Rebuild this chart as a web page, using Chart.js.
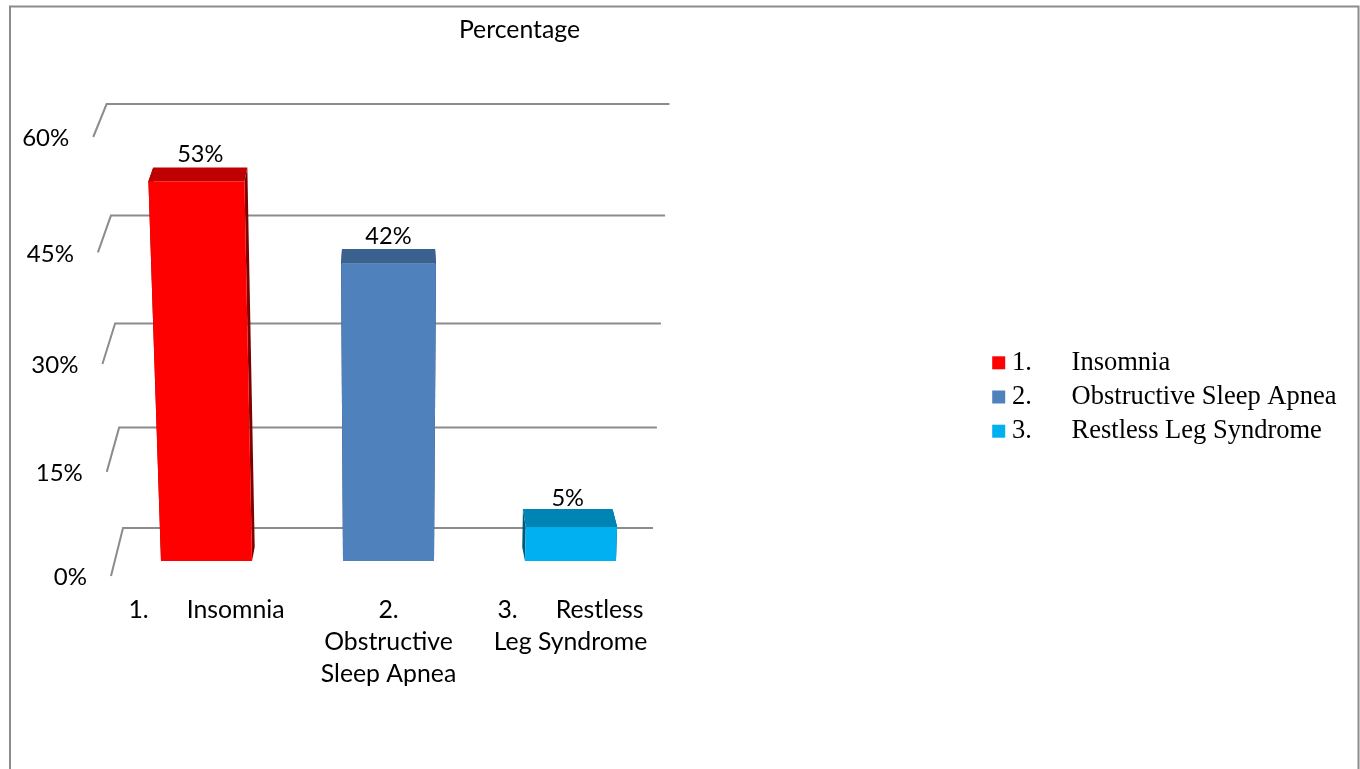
<!DOCTYPE html>
<html>
<head>
<meta charset="utf-8">
<title>Percentage</title>
<script src="https://cdn.jsdelivr.net/npm/chart.js@4"></script>
<style>
  html, body { margin: 0; padding: 0; background: #fff; overflow: hidden; }
  canvas { display: block; }
</style>
</head>
<body>
<canvas id="sleepChart" width="1360" height="769"></canvas>
<script>
const categories = [
  ['1.      Insomnia'],
  ['2.', 'Obstructive', 'Sleep Apnea'],
  ['3.      Restless', 'Leg Syndrome']
];
const legendNames = ['1.      Insomnia', '2.      Obstructive Sleep Apnea', '3.      Restless Leg Syndrome'];
const percentages = [53, 42, 5];
const yTicks = [0, 15, 30, 45, 60];
const barColors = ['#ff0000', '#4f81bd', '#00b0f0'];

const chartFont = 'Lato';
const gridColor = '#8c8c8c';

// the original is a 3D chart seen from above, everything leans away from x = 388
const VANISH_X = 388;
const LEAN = 0.000146;
const lean = (x, h) => x + (x - VANISH_X) * LEAN * h;

function shade(hex, f) {
  const n = parseInt(hex.slice(1), 16);
  const c = [n >> 16, (n >> 8) & 255, n & 255].map(v => Math.round(v * f));
  return `rgb(${c.join(',')})`;
}

function poly(ctx, pts, fill) {
  ctx.beginPath();
  pts.forEach((p, i) => i ? ctx.lineTo(p[0], p[1]) : ctx.moveTo(p[0], p[1]));
  ctx.closePath();
  ctx.fillStyle = fill;
  ctx.fill();
}

// linear axis with the slight foreshortening of the 3D view
class PerspectiveScale extends Chart.LinearScale {
  static id = 'perspective';
  static defaults = Chart.LinearScale.defaults;
  getPixelForDecimal(d) {
    const { pxAtMin, pxAtMax, curve } = this.options;
    return pxAtMin + (pxAtMax - pxAtMin) * (d * (1 - curve) + curve * d * d);
  }
  _computeLabelItems(area) {
    const items = super._computeLabelItems(area);
    items.forEach(it => {
      const y = it.options.translation[1];
      it.options.translation[0] = lean(111, 576 - y) - 24;
      it.options.translation[1] = y + 1.5;
    });
    return items;
  }
}
Chart.register(PerspectiveScale);

function prism(el) {
  const h = el.base - el.y;
  const xl = el.x - el.width / 2, xr = el.x + el.width / 2;
  const tl = lean(xl, h), tr = lean(xr, h);
  const backY = el.y - (11.5 + el.y * 0.0125);
  const inset = x => x + (VANISH_X - x) * 0.02;
  return { xl, xr, tl, tr, backY, btl: inset(tl), btr: inset(tr), bbl: inset(xl), bbr: inset(xr) };
}

Chart.BarElement.prototype.draw = function (ctx) {
  const p = prism(this);
  const color = this.options.backgroundColor;
  const bottom = this.base - 14;
  // side walls first, front goes over them
  poly(ctx, [[p.tr, this.y], [p.btr, p.backY], [p.bbr, bottom], [p.xr, this.base]], shade(color, 0.5));
  poly(ctx, [[p.tl, this.y], [p.btl, p.backY], [p.bbl, bottom], [p.xl, this.base]], shade(color, 0.5));
  poly(ctx, [[p.tl, this.y], [p.btl, p.backY], [p.btr, p.backY], [p.tr, this.y]], shade(color, 0.75));
  poly(ctx, [[p.tl, this.y], [p.tr, this.y], [p.xr, this.base], [p.xl, this.base]], color);
};

const chart3d = {
  id: 'chart3d',
  afterLayout(chart) {
    chart.titleBlock.left = 0;
    chart.titleBlock.right = 1039;
    // legend sits outside the plot in the original, left edge includes its padding
    const lg = chart.legend;
    const w = lg.right - lg.left;
    lg.left = 991;
    lg.right = 991 + w + 20;
    lg.top = 120;
    lg.bottom = 674;
  },
  beforeDraw(chart) {
    const ctx = chart.ctx;
    ctx.save();
    ctx.strokeStyle = gridColor;
    ctx.lineWidth = 2;
    ctx.beginPath();
    ctx.moveTo(10, 769);
    ctx.lineTo(10, 6.5);
    ctx.lineTo(1358.5, 6.5);
    ctx.lineTo(1358.5, 769);
    ctx.stroke();
    ctx.restore();
  },
  beforeDatasetsDraw(chart) {
    const ctx = chart.ctx, y = chart.scales.y;
    ctx.save();
    ctx.strokeStyle = gridColor;
    ctx.lineWidth = 2;
    y.ticks.forEach(t => {
      const py = y.getPixelForValue(t.value);
      const backY = py - (48 - 15 * t.value / y.max);
      ctx.beginPath();
      ctx.moveTo(lean(111, 576 - py), py);
      ctx.lineTo(lean(123, 528 - backY), backY);
      ctx.lineTo(lean(653, 528 - backY), backY);
      ctx.stroke();
    });
    ctx.restore();
  },
  afterDatasetsDraw(chart) {
    const ctx = chart.ctx;
    ctx.save();
    ctx.font = `23.6px ${chartFont}`;
    ctx.fillStyle = '#000';
    ctx.textAlign = 'center';
    ctx.textBaseline = 'middle';
    chart.getDatasetMeta(0).data.forEach((el, i) => {
      const p = prism(el);
      ctx.fillText(percentages[i] + '%', (p.btl + p.btr) / 2, p.backY - (15.5 - el.y * 0.01));
    });
    ctx.restore();
  }
};

new Chart(document.getElementById('sleepChart'), {
  type: 'bar',
  data: {
    labels: categories,
    datasets: [{
      label: 'Percentage',
      data: percentages,
      backgroundColor: barColors,
      barThickness: 91,
      yAxisID: 'yBar'
    }]
  },
  options: {
    responsive: false,
    animation: false,
    events: [],
    layout: { padding: { left: 0, right: 698.5, top: 0, bottom: 0 } },
    plugins: {
      title: {
        display: true,
        text: 'Percentage',
        color: '#000',
        font: { family: chartFont, size: 24.8, weight: 'normal' },
        padding: { top: 15, bottom: 20 }
      },
      legend: {
        position: 'chartArea',
        labels: {
          color: '#000',
          font: { family: 'Liberation Serif', size: 26.5 },
          usePointStyle: true,
          pointStyle: 'rect',
          boxWidth: 0.01,
          boxHeight: 13,
          padding: 7.7,
          generateLabels: () => legendNames.map((name, i) => ({
            text: name,
            fillStyle: barColors[i],
            strokeStyle: barColors[i],
            lineWidth: 0,
            pointStyle: 'rect',
            hidden: false,
            index: i
          }))
        }
      },
      tooltip: { enabled: false }
    },
    scales: {
      x: {
        grid: { display: false, drawTicks: false },
        border: { display: false },
        ticks: {
          color: '#000',
          font: { family: chartFont, size: 24.8, lineHeight: 32 / 24.8 },
          padding: 33,
          maxRotation: 0,
          autoSkip: false
        },
        afterFit: s => { s.height = 208; }
      },
      y: {
        type: 'perspective',
        position: 'left',
        min: 0,
        max: 60,
        pxAtMin: 576,
        pxAtMax: 137,
        curve: 0.0683,
        grid: { display: false },
        border: { display: false },
        afterBuildTicks: s => { s.ticks = yTicks.map(v => ({ value: v })); },
        ticks: {
          color: '#000',
          font: { family: chartFont, size: 24 },
          autoSkip: false,
          callback: v => v + '%'
        },
        afterFit: s => { s.width = 115.5; }
      },
      yBar: {
        type: 'perspective',
        display: false,
        min: 0,
        max: 60,
        pxAtMin: 561,
        pxAtMax: 128,
        curve: 0.064
      }
    }
  },
  plugins: [chart3d]
});
</script>
</body>
</html>
